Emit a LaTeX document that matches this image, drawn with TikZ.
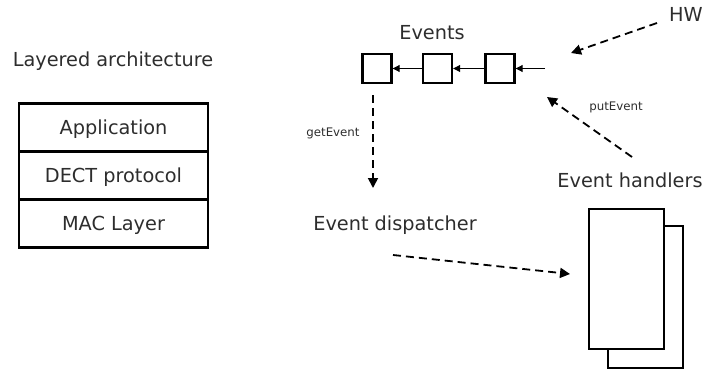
\documentclass[tikz,border=0pt]{standalone}
\usepackage{fontspec}
\setmainfont{DejaVu Sans}
\usetikzlibrary{arrows.meta}
\definecolor{ink}{RGB}{45,45,45}
\tikzset{
  title/.style={font=\fontsize{19.3}{23}\selectfont, text=ink, inner sep=0pt, anchor=base},
  small/.style={font=\fontsize{11.8}{14}\selectfont, text=ink, inner sep=0pt},
  layer/.style={draw, line width=2.3pt, minimum width=189pt, minimum height=48pt,
    inner sep=0pt, outer sep=0pt, text height=14pt, text depth=0pt, text=ink,
    font=\fontsize{19.3}{23}\selectfont},
  qbox/.style={draw, line width=2.4pt, minimum size=29pt, inner sep=0pt},
  qarrow/.style={line width=1pt, -{Triangle[length=7pt,width=7pt]}},
  flow/.style={line width=1.8pt, dash pattern=on 8pt off 5pt,
    -{Triangle[length=10pt,width=10pt]}},
  sheet/.style={draw, line width=2.4pt, fill=white, inner sep=0pt}
}
\begin{document}
\begin{tikzpicture}[x=1pt,y=-1pt]
\useasboundingbox (0,0) rectangle (706,369);

% layered architecture
\node[title] (ltitle) at (113,66.5) {Layered architecture};
\node[layer] (app)  at (113.5,127.5) {Application};
\node[layer, anchor=north] (dect) at (app.south) {DECT protocol};
\node[layer, anchor=north] (mac)  at (dect.south) {MAC Layer};

% event queue
\node[title] (events) at (432,40) {Events};
\node[qbox] (q1) at (377,68.5) {};
\node[qbox] (q2) at (437.5,68.5) {};
\node[qbox] (q3) at (500,68.5) {};
\coordinate (qin) at (545,68.5);
\draw[qarrow] (qin) -- (q3.east);
\draw[qarrow] (q3.west) -- (q2.east);
\draw[qarrow] (q2.west) -- (q1.east);

% producers
\node[title] (hw) at (686,22) {HW};
\coordinate (hwS) at (657,23);
\coordinate (hwE) at (571,53);
\draw[flow] (hwS) -- (hwE);

\coordinate (putS) at (632,157);
\coordinate (putE) at (547,97);
\draw[flow] (putS) -- (putE);
\node[small] (put) at (616,107) {putEvent};

% consumer
\coordinate (getS) at (373,95);
\coordinate (getE) at (373,188);
\draw[flow] (getS) -- (getE);
\node[small] (get) at (333,133) {getEvent};
\node[title] (disp) at (395,230) {Event dispatcher};

% handlers
\node[title] (hlabel) at (630,187) {Event handlers};
\node[sheet, minimum width=75pt, minimum height=142pt, anchor=north west] (h2) at (607,225) {};
\node[sheet, minimum width=75pt, minimum height=140pt, anchor=north west] (h1) at (588,208) {};

\coordinate (dispS) at (393,255);
\coordinate (dispE) at (570,274);
\draw[flow] (dispS) -- (dispE);
\end{tikzpicture}
\end{document}
